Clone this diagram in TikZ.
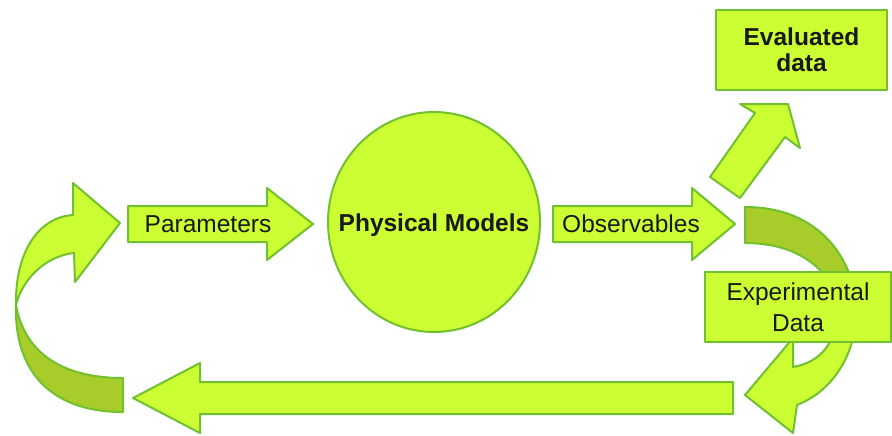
\documentclass[tikz,border=0pt]{standalone}
\usepackage{fontspec}
\setmainfont{Liberation Sans}
\usepackage{tikz}
\usetikzlibrary{shapes.geometric, positioning}
\definecolor{LimeFill}{RGB}{204,255,51}
\definecolor{LimeEdge}{RGB}{112,192,48}
\definecolor{LimeDark}{RGB}{168,204,42}
\definecolor{InkGray}{RGB}{25,25,25}

\begin{document}
\begin{tikzpicture}[x=0.5pt, y=-0.5pt,
    blockfill/.style={fill=LimeFill, draw=LimeEdge, line width=1pt, line join=round},
    ribbonback/.style={fill=LimeDark, draw=LimeEdge, line width=1pt, line join=round},
    txt/.style={font=\fontsize{12.25}{15}\selectfont, text=InkGray, align=center, inner sep=0pt}]
  \useasboundingbox (0,0) rectangle (892,435);
  % feedback loop, left side (twisted ribbon)
  \draw[ribbonback] (123,378) .. controls (65,378) and (25,355) .. (16,305)
        .. controls (14,365) and (45,412) .. (123,412) -- cycle;
  \draw[blockfill] (16,305) .. controls (15,250) and (40,217) .. (73,215)
        -- (73,183) -- (120,223) -- (75,282) -- (74,253)
        .. controls (45,256) and (22,280) .. (16,305) -- cycle;
  % feedback loop, right side
  \draw[ribbonback] (745,207) .. controls (800,207) and (840,235) .. (855,290)
        -- (834,290) .. controls (818,258) and (785,243) .. (745,243) -- cycle;
  \draw[blockfill] (857,295) .. controls (860,350) and (835,390) .. (797,405)
        -- (793,433) -- (745,395) -- (793,338) -- (793,367)
        .. controls (820,362) and (838,345) .. (842,295) -- cycle;
  % long return arrow
  \draw[blockfill] (733,382) -- (200,382) -- (200,363) -- (133,398)
        -- (200,433) -- (200,414) -- (733,414) -- cycle;
  % the two flow arrows
  \foreach \xa/\xb/\xt in {128/267/313, 553/692/735} {
    \draw[blockfill] (\xa,206) -- (\xb,206) -- (\xb,188) -- (\xt,224)
          -- (\xb,260) -- (\xb,242) -- (\xa,242) -- cycle;
  }
  % up to the evaluated data
  \draw[blockfill] (710,177) -- (755,113) -- (740,104) -- (788,104)
        -- (800,148) -- (785,137) -- (740,198) -- cycle;

  \node[txt] (params) at (208,224) {Parameters};
  \node[txt] (observ) at (631,224) {Observables};
  \node[blockfill, ellipse, minimum width=106pt, minimum height=110pt,
        inner sep=0pt] (model) at (434,222) {};
  \node[txt, font=\fontsize{12.25}{15}\selectfont\bfseries] (modeltext)
        at (434,225) {Physical Models};
  \node[blockfill, rectangle, minimum width=85.5pt, minimum height=40pt,
        txt, font=\fontsize{12.25}{13}\selectfont\bfseries] (evaluated) at (801.5,50)
        {Evaluated\\data};
  \node[blockfill, rectangle, minimum width=93pt, minimum height=35pt,
        txt, font=\fontsize{12.25}{15.5}\selectfont] (expdata) at (798,307)
        {Experimental\\Data};
\end{tikzpicture}
\end{document}
